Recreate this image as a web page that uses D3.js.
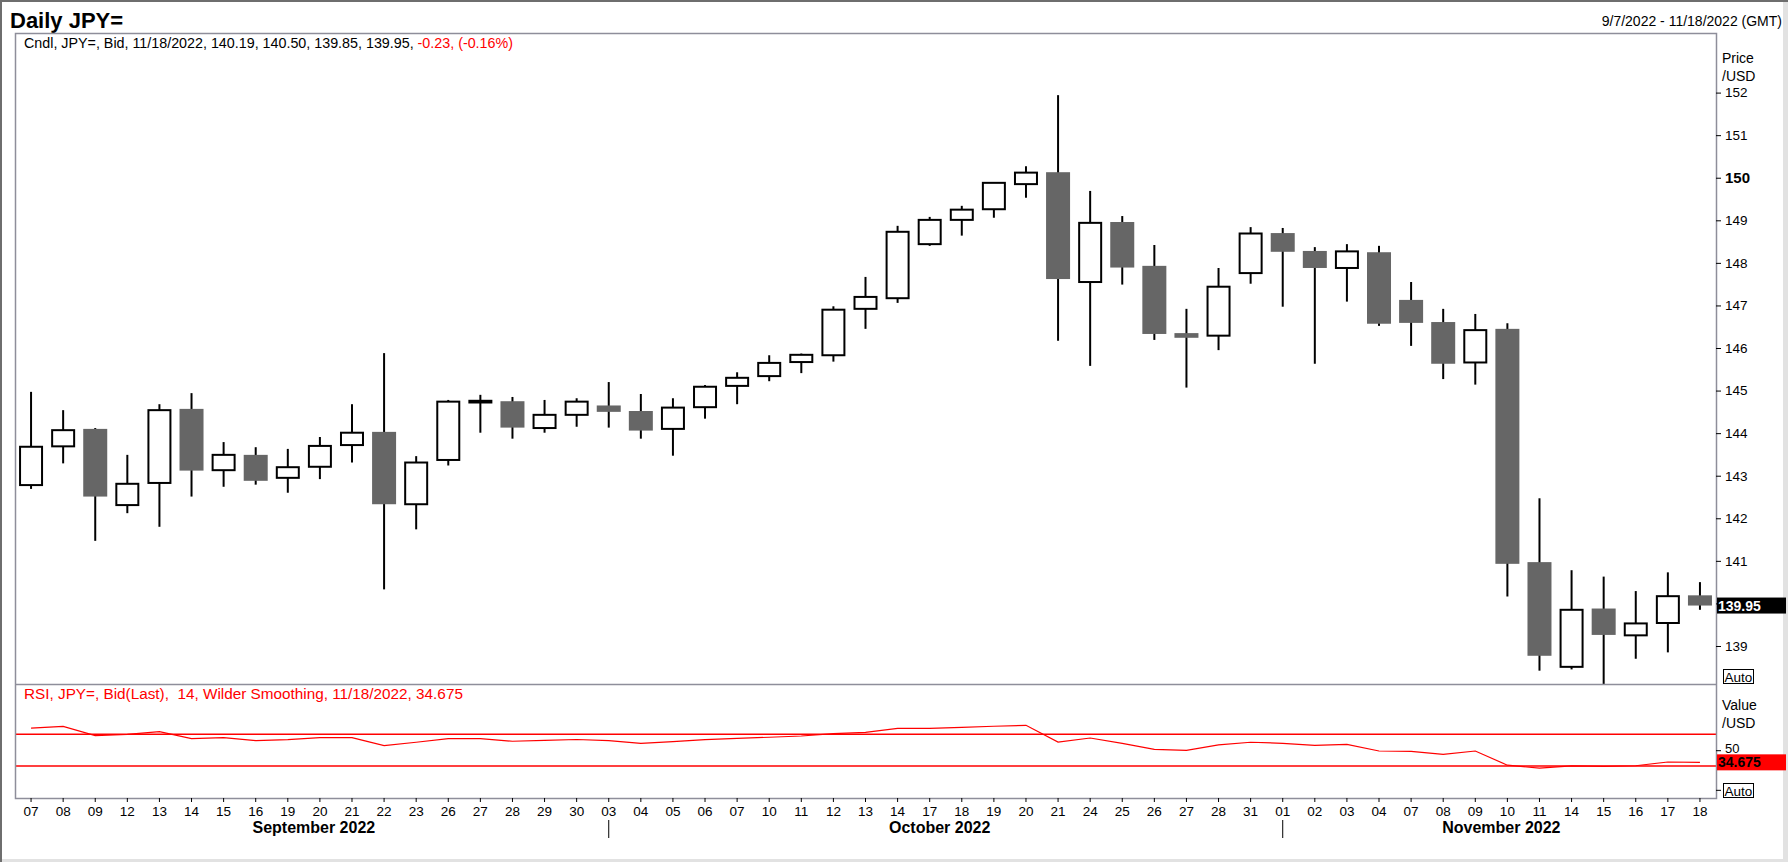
<!DOCTYPE html>
<html>
<head>
<meta charset="utf-8">
<script src="https://cdn.jsdelivr.net/npm/d3@7/dist/d3.min.js"></script>
<style>
    body { margin: 0; background: #fff; }
    svg { display: block; font-family: "Liberation Sans", Arial, sans-serif; }
</style>
</head>
<body>
<svg id="chart"></svg>
<script>
"use strict";

const width = 1788;
const height = 862;

// daily JPY= bid candles, 9/7/2022 - 11/18/2022
const dates = [
    "2022-09-07", "2022-09-08", "2022-09-09", "2022-09-12", "2022-09-13", "2022-09-14", "2022-09-15",
    "2022-09-16", "2022-09-19", "2022-09-20", "2022-09-21", "2022-09-22", "2022-09-23", "2022-09-26",
    "2022-09-27", "2022-09-28", "2022-09-29", "2022-09-30",
    "2022-10-03", "2022-10-04", "2022-10-05", "2022-10-06", "2022-10-07", "2022-10-10", "2022-10-11",
    "2022-10-12", "2022-10-13", "2022-10-14", "2022-10-17", "2022-10-18", "2022-10-19", "2022-10-20",
    "2022-10-21", "2022-10-24", "2022-10-25", "2022-10-26", "2022-10-27", "2022-10-28", "2022-10-31",
    "2022-11-01", "2022-11-02", "2022-11-03", "2022-11-04", "2022-11-07", "2022-11-08", "2022-11-09",
    "2022-11-10", "2022-11-11", "2022-11-14", "2022-11-15", "2022-11-16", "2022-11-17", "2022-11-18"
];

const open = [
    142.78, 143.69, 144.10, 142.31, 142.83, 144.57, 143.13, 143.49, 142.95, 143.21, 143.72, 144.03,
    142.33, 143.37, 144.72, 144.75, 144.12, 144.43,
    144.65, 144.52, 144.10, 144.61, 145.11, 145.34, 145.67, 145.83, 146.92, 147.17, 148.44, 149.01,
    149.26, 149.85, 150.13, 147.55, 148.96, 147.93, 146.35, 146.29, 147.76,
    148.70, 148.28, 147.88, 148.25, 147.13, 146.61, 145.66, 146.45, 140.97, 138.51, 139.88, 139.25,
    139.54, 140.19
];
const high = [
    144.97, 144.54, 144.12, 143.49, 144.68, 144.94, 143.79, 143.67, 143.63, 143.91, 144.68, 145.88,
    143.46, 144.78, 144.90, 144.85, 144.78, 144.82,
    145.20, 144.92, 144.82, 145.13, 145.43, 145.83, 145.87, 146.98, 147.67, 148.87, 149.08, 149.34,
    149.90, 150.27, 151.94, 149.69, 149.10, 148.42, 146.92, 147.88, 148.84,
    148.82, 148.37, 148.44, 148.40, 147.55, 146.92, 146.80, 146.58, 142.47, 140.78, 140.63, 140.29,
    140.73, 140.50
];
const low = [
    142.69, 143.29, 141.47, 142.12, 141.80, 142.51, 142.74, 142.79, 142.60, 142.92, 143.31, 140.33,
    141.74, 143.24, 144.01, 143.87, 144.01, 144.15,
    144.13, 143.87, 143.47, 144.34, 144.68, 145.22, 145.41, 145.68, 146.45, 147.06, 148.40, 148.64,
    149.06, 149.53, 146.17, 145.58, 147.49, 146.19, 145.07, 145.95, 147.51,
    146.97, 145.63, 147.09, 146.52, 146.05, 145.27, 145.14, 140.16, 138.42, 138.45, 138.05, 138.70,
    138.85, 139.85
];
const close = [
    143.68, 144.07, 142.51, 142.81, 144.54, 143.12, 143.49, 142.88, 143.20, 143.70, 144.01, 142.33,
    143.31, 144.74, 144.76, 144.13, 144.43, 144.74,
    144.50, 144.06, 144.60, 145.09, 145.30, 145.65, 145.84, 146.90, 147.20, 148.73, 149.01, 149.25,
    149.88, 150.12, 147.62, 148.94, 147.89, 146.33, 146.24, 147.44, 148.69,
    148.26, 147.88, 148.27, 146.57, 146.59, 145.63, 146.42, 140.93, 138.77, 139.85, 139.26, 139.53,
    140.17, 139.95
];

// RSI 14, Wilder smoothing
const rsi = [
    77.9, 80.0, 68.3, 70.0, 73.3, 64.6, 65.8, 62.1, 63.3, 65.8, 65.8, 55.8, 60.0, 64.6, 64.6, 61.3,
    62.5, 63.5,
    62.0, 58.7, 60.7, 63.3, 65.0, 66.3, 67.9, 70.8, 72.6, 77.6, 77.6, 78.9, 80.2, 81.4, 60.3, 65.4,
    58.7, 51.1, 49.9, 56.6, 60.0,
    58.7, 56.2, 57.4, 49.0, 48.6, 44.8, 49.0, 31.1, 27.3, 30.1, 29.7, 30.4, 35.1, 34.675
];
const rsiBands = [70, 30];

const priceTicks = [139, 140, 141, 142, 143, 144, 145, 146, 147, 148, 149, 150, 151, 152];
const rsiTicks = [0, 50];
const months = [
    { key: "2022-09", label: "September 2022" },
    { key: "2022-10", label: "October 2022" },
    { key: "2022-11", label: "November 2022" }
];

const lastPrice = 139.95;
const lastRsi = 34.675;

const plot = { left: 15, right: 1716, top: 33, split: 684, bottom: 798 };
const border_color = "#8e8e9a";
const down_fill = "#666666";

const data = dates.map((d, i) => ({
    date: d, open: open[i], high: high[i], low: low[i], close: close[i], rsi: rsi[i]
}));

const svg = d3.select("#chart")
    .attr("width", width)
    .attr("height", height);

// scales
const x = d3.scaleBand()
    .domain(dates)
    .range([plot.left, plot.right])
    .paddingInner(0)
    .paddingOuter(0);
const cx = d => x(d) + x.bandwidth() / 2;

const y = d3.scaleLinear()
    .domain([138.107, 153.4])
    .range([plot.split, plot.top]);

const yRsi = d3.scaleLinear()
    .domain([-10.3, 133.5])
    .range([plot.bottom, plot.split]);

// outer frame
svg.append("rect")
    .attr("x", 0).attr("y", 0)
    .attr("width", width).attr("height", height)
    .attr("fill", "#fff");
svg.append("line").attr("x1", 0).attr("x2", width).attr("y1", 1).attr("y2", 1)
    .attr("stroke", "#6e6e6e").attr("stroke-width", 2);
svg.append("line").attr("x1", 1).attr("x2", 1).attr("y1", 0).attr("y2", height)
    .attr("stroke", "#6e6e6e").attr("stroke-width", 2);
svg.append("line").attr("x1", width - 2.5).attr("x2", width - 2.5).attr("y1", 2).attr("y2", height)
    .attr("stroke", "#e2e2e2").attr("stroke-width", 5);
svg.append("line").attr("x1", 2).attr("x2", width).attr("y1", height - 1.5).attr("y2", height - 1.5)
    .attr("stroke", "#e2e2e2").attr("stroke-width", 3);

// headers
svg.append("text")
    .attr("x", 10).attr("y", 28)
    .attr("font-size", 22).attr("font-weight", "bold")
    .text("Daily JPY=");

svg.append("text")
    .attr("x", 1782).attr("y", 26)
    .attr("text-anchor", "end")
    .attr("font-size", 14)
    .text("9/7/2022 - 11/18/2022 (GMT)");

// clip paths for the two panels
const defs = svg.append("defs");
defs.append("clipPath").attr("id", "clip-price")
    .append("rect")
    .attr("x", plot.left).attr("y", plot.top)
    .attr("width", plot.right - plot.left).attr("height", plot.split - plot.top);
defs.append("clipPath").attr("id", "clip-rsi")
    .append("rect")
    .attr("x", plot.left).attr("y", plot.split)
    .attr("width", plot.right - plot.left).attr("height", plot.bottom - plot.split);

// candles
const candles = svg.append("g")
    .attr("clip-path", "url(#clip-price)")
    .selectAll("g")
    .data(data)
    .enter()
    .append("g");

candles.append("line")
    .attr("x1", d => cx(d.date))
    .attr("x2", d => cx(d.date))
    .attr("y1", d => y(d.high))
    .attr("y2", d => y(d.low))
    .attr("stroke", "#000")
    .attr("stroke-width", 2);

const bodyW = 24;
candles.append("rect")
    .attr("x", d => d.close >= d.open ? cx(d.date) - bodyW / 2 + 1 : cx(d.date) - bodyW / 2)
    .attr("width", d => d.close >= d.open ? bodyW - 2 : bodyW)
    .attr("y", d => y(Math.max(d.open, d.close)))
    .attr("height", d => Math.max(1, y(Math.min(d.open, d.close)) - y(Math.max(d.open, d.close))))
    .attr("fill", d => d.close >= d.open ? "#fff" : down_fill)
    .attr("stroke", d => d.close >= d.open ? "#000" : "none")
    .attr("stroke-width", 2);

// RSI panel
const rsiG = svg.append("g").attr("clip-path", "url(#clip-rsi)");
rsiG.selectAll("line.band")
    .data(rsiBands)
    .enter()
    .append("line")
    .attr("class", "band")
    .attr("x1", plot.left).attr("x2", plot.right)
    .attr("y1", d => yRsi(d)).attr("y2", d => yRsi(d))
    .attr("stroke", "#ff0000")
    .attr("stroke-width", 1.5);

const rsiLine = d3.line()
    .x(d => cx(d.date))
    .y(d => yRsi(d.rsi));
rsiG.append("path")
    .datum(data)
    .attr("d", rsiLine)
    .attr("fill", "none")
    .attr("stroke", "#ff0000")
    .attr("stroke-width", 1.2);

// panel borders
svg.append("rect")
    .attr("x", plot.left + 0.5).attr("y", plot.top + 0.5)
    .attr("width", plot.right - plot.left).attr("height", plot.bottom - plot.top)
    .attr("fill", "none")
    .attr("stroke", border_color)
    .attr("stroke-width", 1.5);
svg.append("line")
    .attr("x1", plot.left).attr("x2", plot.right)
    .attr("y1", plot.split + 0.5).attr("y2", plot.split + 0.5)
    .attr("stroke", border_color)
    .attr("stroke-width", 1.5);

// legends
const legend = svg.append("text")
    .attr("x", 24).attr("y", 48)
    .attr("font-size", 14.3);
legend.append("tspan")
    .attr("fill", "#000")
    .text("Cndl, JPY=, Bid, 11/18/2022, 140.19, 140.50, 139.85, 139.95, ");
legend.append("tspan")
    .attr("fill", "#ff0000")
    .text("-0.23, (-0.16%)");

svg.append("text")
    .attr("x", 24).attr("y", 699)
    .attr("font-size", 15.3)
    .attr("fill", "#ff0000")
    .style("white-space", "pre")
    .text("RSI, JPY=, Bid(Last),  14, Wilder Smoothing, 11/18/2022, 34.675");

// right axes
const axisPrice = svg.append("g")
    .attr("transform", `translate(${plot.right}, 0)`)
    .call(d3.axisRight(y).tickValues(priceTicks).tickSize(5).tickPadding(4).tickFormat(d3.format("d")));
axisPrice.select(".domain").remove();
axisPrice.selectAll("text")
    .attr("font-size", d => d === 150 ? 15 : 13.5)
    .attr("font-weight", d => d === 150 ? "bold" : "normal")
    .attr("font-family", "Liberation Sans, Arial, sans-serif")
    .attr("fill", "#000");
// the 140 label sits under the last price tag
axisPrice.selectAll(".tick").filter(d => d === 140).select("text").remove();
axisPrice.selectAll("line").attr("stroke", "#000");

const axisRsi = svg.append("g")
    .attr("transform", `translate(${plot.right}, 0)`)
    .call(d3.axisRight(yRsi).tickValues(rsiTicks).tickSize(5).tickPadding(4));
axisRsi.select(".domain").remove();
axisRsi.selectAll("text")
    .attr("font-size", 13)
    .attr("font-family", "Liberation Sans, Arial, sans-serif")
    .attr("fill", "#000")
    .attr("dy", "0.2em");
// the 0 label sits under the Auto button
axisRsi.selectAll(".tick").filter(d => d === 0).select("text").remove();
axisRsi.selectAll("line").attr("stroke", "#000");

const axisLabels = [
    { text: "Price", y: 63 }, { text: "/USD", y: 81 },
    { text: "Value", y: 710 }, { text: "/USD", y: 728 }
];
svg.selectAll("text.unit")
    .data(axisLabels)
    .enter()
    .append("text")
    .attr("class", "unit")
    .attr("x", 1722)
    .attr("y", d => d.y)
    .attr("font-size", 14)
    .text(d => d.text);

// last value markers
function valueTag(yPos, label, bg, fg) {
    svg.append("rect")
        .attr("x", plot.right + 1).attr("y", yPos - 8)
        .attr("width", width - plot.right - 3).attr("height", 16)
        .attr("fill", bg);
    svg.append("text")
        .attr("x", plot.right + 2).attr("y", yPos + 5)
        .attr("font-size", 14).attr("font-weight", "bold")
        .attr("fill", fg)
        .text(label);
}
valueTag(y(lastPrice), lastPrice.toFixed(2), "#000", "#fff");
valueTag(yRsi(lastRsi), lastRsi.toFixed(3), "#ff0000", "#000");

// "Auto" buttons
[plot.split, plot.bottom].forEach(bottom => {
    svg.append("rect")
        .attr("x", 1723.5).attr("y", bottom - 14.5)
        .attr("width", 30).attr("height", 14)
        .attr("fill", "#fff")
        .attr("stroke", "#000");
    svg.append("text")
        .attr("x", 1738.5).attr("y", bottom - 2.5)
        .attr("text-anchor", "middle")
        .attr("font-size", 13.5)
        .text("Auto");
});

// date axis
const axisX = svg.append("g")
    .attr("transform", `translate(0, ${plot.bottom})`)
    .call(d3.axisBottom(x).tickSize(4).tickPadding(4).tickFormat(d => d.slice(8)));
axisX.select(".domain").remove();
axisX.selectAll("text")
    .attr("font-size", 13.5)
    .attr("font-family", "Liberation Sans, Arial, sans-serif")
    .attr("fill", "#000");
axisX.selectAll("line").attr("stroke", "#000");

// month labels and separators
months.forEach((m, k) => {
    const inMonth = dates.filter(d => d.startsWith(m.key));
    const mid = (cx(inMonth[0]) + cx(inMonth[inMonth.length - 1])) / 2 + 10;
    svg.append("text")
        .attr("x", mid).attr("y", 833)
        .attr("text-anchor", "middle")
        .attr("font-size", 16).attr("font-weight", "bold")
        .text(m.label);
    if (k > 0) {
        svg.append("line")
            .attr("x1", cx(inMonth[0])).attr("x2", cx(inMonth[0]))
            .attr("y1", 820).attr("y2", 838)
            .attr("stroke", "#000");
    }
});
</script>
</body>
</html>
